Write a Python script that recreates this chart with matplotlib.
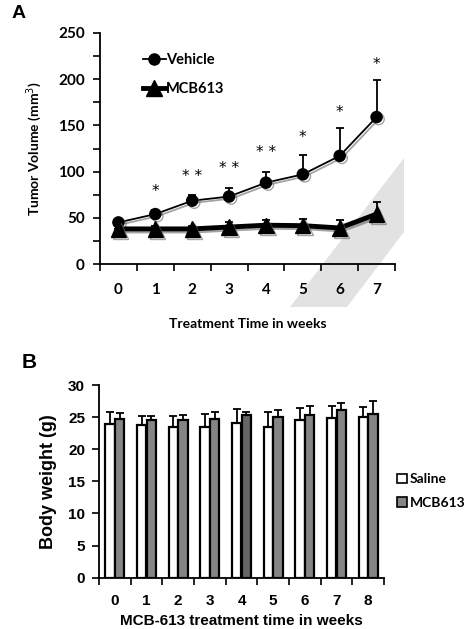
import matplotlib
matplotlib.use("Agg")
import matplotlib.pyplot as plt
import numpy as np
from matplotlib.patches import Polygon, Patch
from matplotlib.lines import Line2D
import matplotlib.patheffects as pe

# ---------------- Data ----------------
weeks_a = [0, 1, 2, 3, 4, 5, 6, 7]
vehicle = [45, 54, 68.5, 73, 88, 97, 117, 159]
vehicle_err = [4, 4, 6, 9, 12, 21, 30, 40]
mcb_a = [38, 38, 38, 40, 42, 41.5, 39, 54]
mcb_a_err = [3, 3, 3, 5, 6, 7, 9, 13]
stars = ["", "*", "**", "**", "**", "*", "*", "*"]
star_y = [0, 79, 94.5, 103.5, 121, 137, 164, 216]

weeks_b = [0, 1, 2, 3, 4, 5, 6, 7, 8]
saline = [24.0, 23.7, 23.5, 23.4, 24.1, 23.4, 24.5, 24.9, 25.0]
saline_err = [1.8, 1.4, 1.6, 2.1, 2.1, 2.4, 1.9, 1.8, 1.5]
mcb_b = [24.65, 24.5, 24.5, 24.65, 25.3, 25.0, 25.4, 26.05, 25.5]
mcb_b_err = [0.95, 0.7, 0.9, 1.15, 0.5, 1.1, 1.3, 1.2, 1.95]

W, H = 466, 629
fig = plt.figure(figsize=(W / 100, H / 100), dpi=100)

fontA = ["Lato", "DejaVu Sans"]
fontB = ["Liberation Sans", "DejaVu Sans"]

# ---------------- Panel A ----------------
axA = fig.add_axes([100 / W, 1 - 264 / H, 295 / W, 231 / H])
axA.patch.set_alpha(0)

# gray decorative parallelogram (figure pixel coords), behind the data
poly_px = [(290, 307), (347, 307), (404, 232), (404, 158)]
poly = Polygon([(x / W, 1 - y / H) for x, y in poly_px], closed=True,
               transform=fig.transFigure, facecolor="#e2e2e2", edgecolor="none",
               zorder=0.5, clip_on=False)
axA.add_patch(poly)

shadow = [pe.SimpleLineShadow(offset=(1.5, -1.5), shadow_color="0.4", alpha=0.6), pe.Normal()]

axA.errorbar(weeks_a, vehicle, yerr=[np.zeros(len(vehicle)), vehicle_err], fmt="none",
             ecolor="black", elinewidth=1.3, capsize=3, capthick=1.3, zorder=2)
axA.errorbar(weeks_a, mcb_a, yerr=[np.zeros(len(mcb_a)), mcb_a_err], fmt="none",
             ecolor="black", elinewidth=1.3, capsize=3, capthick=1.3, zorder=2)
axA.plot(weeks_a, vehicle, color="black", lw=1.3, marker="o", ms=8, zorder=3,
         path_effects=shadow)
axA.plot(weeks_a, mcb_a, color="black", lw=3.5, marker="^", ms=11, zorder=3,
         path_effects=shadow)
for x, s, y in zip(weeks_a, stars, star_y):
    if s:
        axA.text(x, y, " ".join(s), ha="center", va="center", fontsize=11,
                 family=["DejaVu Sans"])

axA.set_xlim(-0.5, 7.5)
axA.set_ylim(0, 250)
axA.set_yticks(np.arange(0, 251, 50))
axA.set_yticks(np.arange(25, 250, 50), minor=True)
axA.set_xticks(np.arange(-0.5, 7.6, 1))
axA.set_xticklabels([])
axA.set_xticks(weeks_a, minor=True)
axA.set_xticklabels([str(w) for w in weeks_a], minor=True)
axA.tick_params(axis="x", which="minor", length=0, pad=14)
axA.tick_params(axis="x", which="major", length=5, width=1.2, direction="out")
axA.tick_params(axis="y", which="both", length=5, width=1.2, direction="out", pad=6)
for lab in axA.get_xticklabels(minor=True) + axA.get_yticklabels():
    lab.set_fontweight("bold")
    lab.set_fontsize(11)
    lab.set_family(fontA)
for s in ["top", "right"]:
    axA.spines[s].set_visible(False)
for s in ["left", "bottom"]:
    axA.spines[s].set_linewidth(1.3)
    axA.spines[s].set_zorder(2.5)
axA.set_ylabel("Tumor Volume (mm$^3$)", fontsize=10, fontweight="bold", family=fontA, labelpad=10)
axA.set_xlabel("Treatment Time in weeks", fontsize=10, fontweight="bold", family=fontA, labelpad=15)

handles = [Line2D([], [], color="black", lw=1.3, marker="o", ms=8),
           Line2D([], [], color="black", lw=3.5, marker="^", ms=11)]
axA.legend(handles, ["Vehicle", "MCB613"], loc="upper left", bbox_to_anchor=(0.1, 0.97),
           frameon=False, handlelength=1.6, handletextpad=0.0, labelspacing=1.0,
           prop={"family": fontA, "weight": "bold", "size": 10.5})

fig.text(12 / W, 1 - 13 / H, "A", fontsize=14, fontweight="bold", family=fontB, va="center")

# ---------------- Panel B ----------------
axB = fig.add_axes([99 / W, 1 - 577.7 / H, 285 / W, 192.7 / H])
xb = np.array(weeks_b)
bw = 0.29
axB.bar(xb - 0.15, saline, width=bw, color="white", edgecolor="black", lw=1.6, zorder=2)
mcb_colors = ["#858585"] * len(mcb_b)
mcb_colors[4] = "#666666"
axB.bar(xb + 0.15, mcb_b, width=bw, color=mcb_colors, edgecolor="black", lw=1.6, zorder=2)
axB.errorbar(xb - 0.15, saline, yerr=[np.zeros(len(saline)), saline_err], fmt="none",
             ecolor="black", elinewidth=1.3, capsize=3, capthick=1.3, zorder=1)
axB.errorbar(xb + 0.15, mcb_b, yerr=[np.zeros(len(mcb_b)), mcb_b_err], fmt="none",
             ecolor="black", elinewidth=1.3, capsize=3, capthick=1.3, zorder=1)
axB.set_xlim(-0.5, 8.5)
axB.set_ylim(0, 30)
axB.set_yticks(np.arange(0, 31, 5))
axB.set_xticks(np.arange(-0.5, 8.6, 1))
axB.set_xticklabels([])
axB.set_xticks(weeks_b, minor=True)
axB.set_xticklabels([str(w) for w in weeks_b], minor=True)
axB.tick_params(axis="x", which="minor", length=0, pad=12)
axB.tick_params(axis="x", which="major", length=5, width=1.2, direction="out")
axB.tick_params(axis="y", length=5, width=1.2, direction="out", pad=5)
for lab in axB.get_xticklabels(minor=True) + axB.get_yticklabels():
    lab.set_fontweight("bold")
    lab.set_fontsize(11)
    lab.set_family(fontB)
for s in ["top", "right"]:
    axB.spines[s].set_visible(False)
for s in ["left", "bottom"]:
    axB.spines[s].set_linewidth(1.3)
axB.set_ylabel("Body weight (g)", fontsize=13, fontweight="bold", family=fontB, labelpad=8)
axB.set_xlabel("MCB-613 treatment time in weeks", fontsize=11, fontweight="bold", family=fontB, labelpad=4)

hb = [Patch(facecolor="white", edgecolor="black", lw=1.2),
      Patch(facecolor="#858585", edgecolor="black", lw=1.2)]
fig.legend(hb, ["Saline", "MCB613"], loc="center left", bbox_to_anchor=(394 / W, 1 - 491 / H),
           frameon=False, handlelength=0.7, handleheight=0.7, handletextpad=0.25, labelspacing=0.8,
           borderaxespad=0.0, borderpad=0.2,
           prop={"family": fontA, "weight": "bold", "size": 10})

fig.text(22 / W, 1 - 363 / H, "B", fontsize=15, fontweight="bold", family=fontB, va="center")

fig.savefig("out.png", dpi=100)
